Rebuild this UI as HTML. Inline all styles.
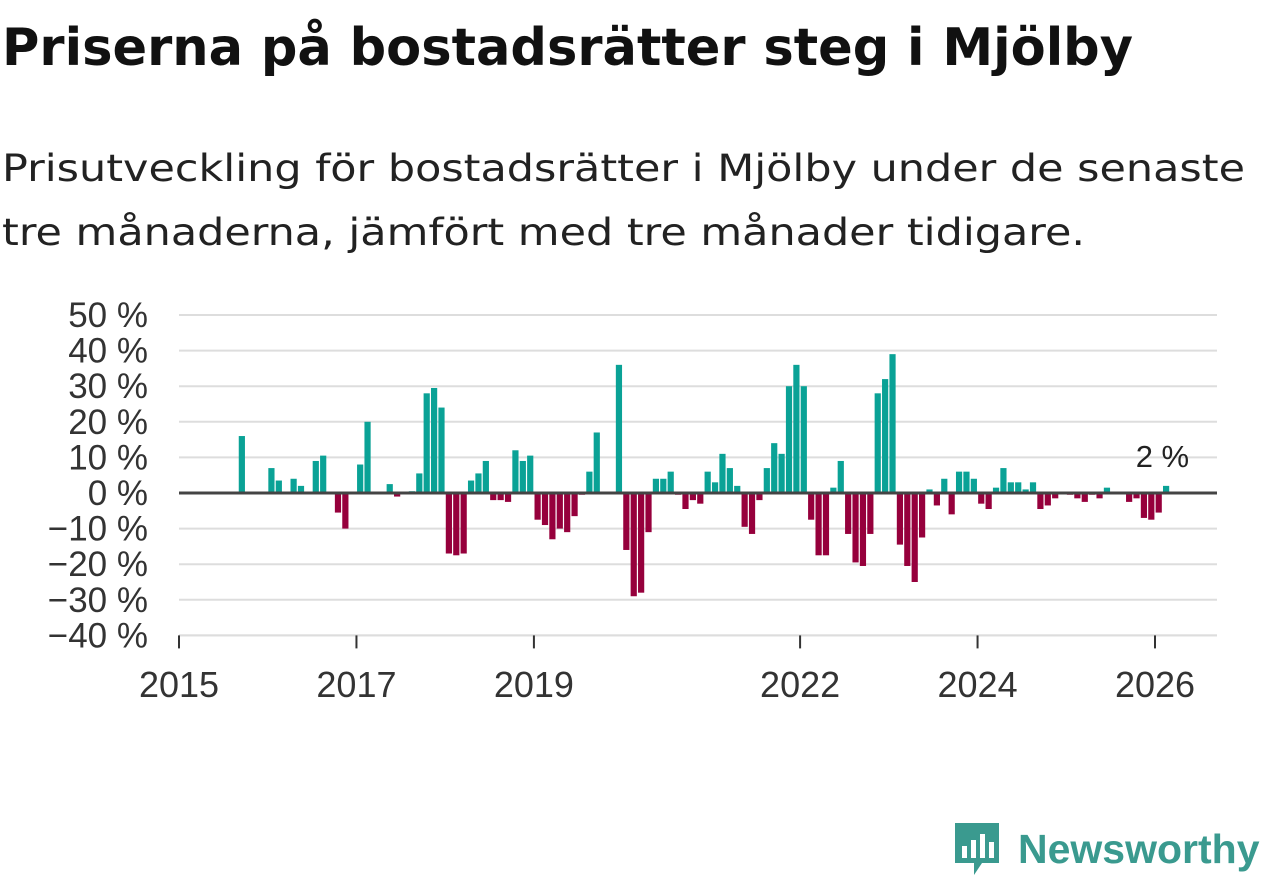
<!DOCTYPE html>
<html><head><meta charset="utf-8"><style>
body{margin:0;width:1262px;height:879px;background:#fff;font-family:"Liberation Sans",sans-serif;overflow:hidden;position:relative}
</style></head><body>
<svg id="chart" width="1262" height="879" style="position:absolute;left:0;top:0" font-family="Liberation Sans, sans-serif">
<text x="2" y="65" font-family="DejaVu Sans, sans-serif" font-weight="bold" font-size="52" fill="#111" textLength="1131" lengthAdjust="spacingAndGlyphs">Priserna på bostadsrätter steg i Mjölby</text>
<text x="2" y="181" font-family="DejaVu Sans, sans-serif" font-size="37" fill="#222" textLength="1243" lengthAdjust="spacingAndGlyphs">Prisutveckling för bostadsrätter i Mjölby under de senaste</text>
<text x="2" y="245" font-family="DejaVu Sans, sans-serif" font-size="37" fill="#222" textLength="1083" lengthAdjust="spacingAndGlyphs">tre månaderna, jämfört med tre månader tidigare.</text>
</svg>
<div style="position:absolute;left:952px;top:820px;display:flex;align-items:center">
<svg width="50" height="58"><path d="M3 3h44v40H30l-8 12v-12H3z" fill="#3a9a8f"/><rect x="10" y="26" width="5" height="12" fill="#fff"/><rect x="19" y="20" width="5" height="18" fill="#fff"/><rect x="28" y="14" width="5" height="24" fill="#fff"/><rect x="37" y="22" width="5" height="16" fill="#fff"/></svg>
<span style="font-size:41px;font-weight:bold;color:#3a9a8f;margin-left:16px">Newsworthy</span></div>
<script>
const months=[8,12,13,15,16,18,19,21,22,24,25,28,29,31,32,33,34,35,36,37,38,39,40,41,42,43,44,45,46,47,48,49,50,51,52,53,54,55,56,59,60,61,62,63,64,65,66,67,68,69,70,71,72,73,74,75,76,77,78,79,80,81,82,83,84,85,86,87,88,89,90,91,92,93,94,95,96,97,98,99,100,101,102,103,104,105,106,107,108,109,110,111,112,113,114,115,116,117,118,120,121,122,123,124,125,128,129,130,131,132,133];
const values=[16,7,3.5,4,2,9,10.5,-5.5,-10,8,20,2.5,-1,0.5,5.5,28,29.5,24,-17,-17.5,-17,3.5,5.5,9,-2,-2,-2.5,12,9,10.5,-7.5,-9,-13,-10,-11,-6.5,-0.5,6,17,36,-16,-29,-28,-11,4,4,6,-0.5,-4.5,-2,-3,6,3,11,7,2,-9.5,-11.5,-2,7,14,11,30,36,30,-7.5,-17.5,-17.5,1.5,9,-11.5,-19.5,-20.5,-11.5,28,32,39,-14.5,-20.5,-25,-12.5,1,-3.5,4,-6,6,6,4,-3,-4.5,1.5,7,3,3,1,3,-4.5,-3.5,-1.5,-0.5,-1.5,-2.5,-0.5,-1.5,1.5,-2.5,-1.5,-7,-7.5,-5.5,2];
const yTicks=[50,40,30,20,10,0,-10,-20,-30,-40];
const xTickYears=[2015,2017,2019,2022,2024,2026];
const lastLabel="2 %";
const svg=document.getElementById('chart');const NS="http://www.w3.org/2000/svg";
const y=v=>493-v*3.56;
const x=m=>179+m*7.394;
function el(t,a){const e=document.createElementNS(NS,t);for(const k in a)e.setAttribute(k,a[k]);svg.appendChild(e);return e;}
yTicks.forEach(t=>{
 const g=el('line',{x1:179,x2:1217,y1:y(t),y2:y(t),stroke:'#ddd','stroke-width':2});
 
 
 const tx=el('text',{x:148,y:y(t)+12,'text-anchor':'end','font-size':35,fill:'#333'});
 tx.textContent=(t<0?'\u2212'+(-t):t)+' %';
 
 
});
const ax=el('line',{x1:179,x2:1217,y1:y(-40),y2:y(-40),stroke:'#ddd','stroke-width':2});


xTickYears.forEach(yr=>{
 const px=x((yr-2015)*12);
 const tk=el('line',{x1:px,x2:px,y1:y(-40),y2:y(-40)+13,stroke:'#333','stroke-width':2});
 
 
 const tx=el('text',{x:px,y:697,'text-anchor':'middle','font-size':36,fill:'#333'});
 tx.textContent=yr;
 
 
});
months.forEach((m,i)=>{
 const v=values[i];
 const r=el('rect',{x:x(m)+0.6,width:6.2,y:Math.min(y(v),y(0)),height:Math.abs(y(v)-y(0)),fill:v>=0?'#0aa296':'#96003c'});
 
 
});
const z=el('line',{x1:179,x2:1217,y1:y(0),y2:y(0),stroke:'#444','stroke-width':3});


const lm=months[months.length-1];
const lb=el('text',{x:x(lm)+0,y:y(0)-26,'text-anchor':'middle','font-size':31,fill:'#222'});
lb.textContent=lastLabel;


</script>
</body></html>
